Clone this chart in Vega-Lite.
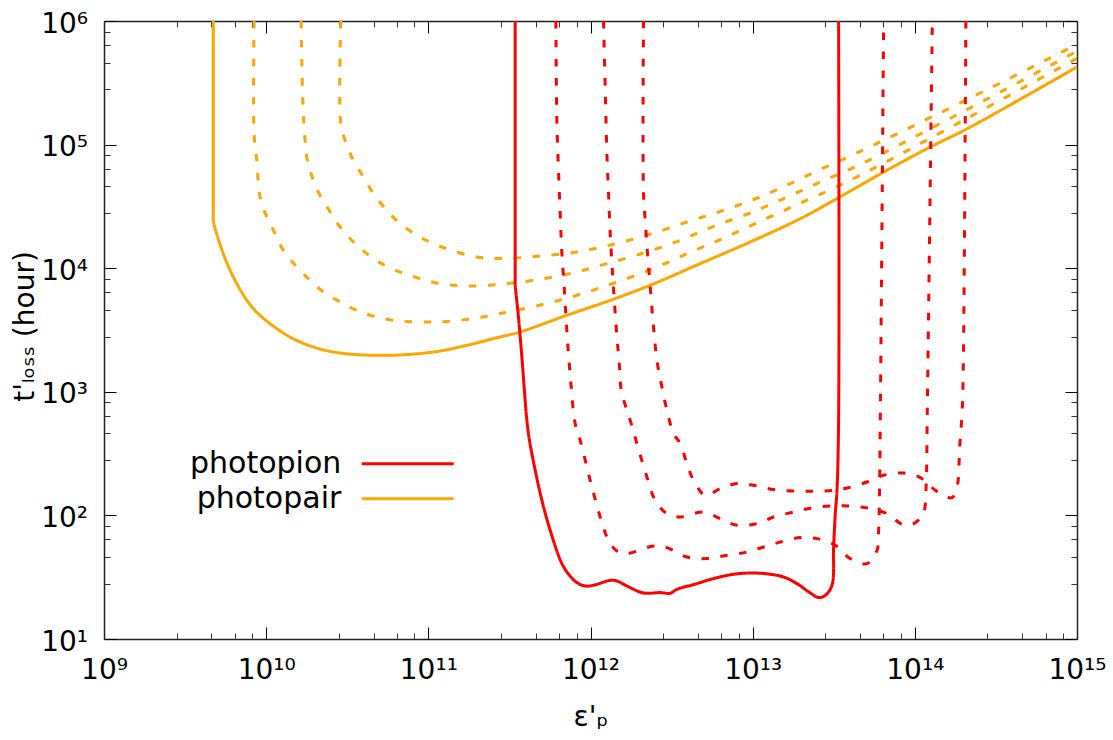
{
  "$schema": "https://vega.github.io/schema/vega-lite/v6.json",
  "width": 973,
  "height": 618,
  "autosize": {"type": "none"},
  "padding": {"left": 104, "top": 21, "right": 36, "bottom": 101},
  "background": "white",
  "config": {"view": {"stroke": null}, "font": "DejaVu Sans"},
  "datasets": {
    "lines": [
      {"c":"pair0","p":"photopair","s":"solid","o":1,"e":4.72e9,"t":1e6},
      {"c":"pair0","p":"photopair","s":"solid","o":1.5,"e":4.72e9,"t":27000},
      {"c":"pair0","p":"photopair","s":"solid","o":2,"e":4.72e9,"t":24400},
      {"c":"pair0","p":"photopair","s":"solid","o":3,"e":5.44e9,"t":13100},
      {"c":"pair0","p":"photopair","s":"solid","o":4,"e":6.59e9,"t":7510},
      {"c":"pair0","p":"photopair","s":"solid","o":5,"e":8.34e9,"t":4710},
      {"c":"pair0","p":"photopair","s":"solid","o":6,"e":1.163e10,"t":3245},
      {"c":"pair0","p":"photopair","s":"solid","o":7,"e":1.618e10,"t":2530},
      {"c":"pair0","p":"photopair","s":"solid","o":8,"e":2.598e10,"t":2099},
      {"c":"pair0","p":"photopair","s":"solid","o":9,"e":5.28e10,"t":1972},
      {"c":"pair0","p":"photopair","s":"solid","o":10,"e":1.075e11,"t":2099},
      {"c":"pair0","p":"photopair","s":"solid","o":11,"e":1.728e11,"t":2378},
      {"c":"pair0","p":"photopair","s":"solid","o":12,"e":2.773e11,"t":2776},
      {"c":"pair0","p":"photopair","s":"solid","o":13,"e":3.68e11,"t":3048},
      {"c":"pair0","p":"photopair","s":"solid","o":14,"e":7.14e11,"t":4160},
      {"c":"pair0","p":"photopair","s":"solid","o":15,"e":1.323e12,"t":5495},
      {"c":"pair0","p":"photopair","s":"solid","o":16,"e":2.334e12,"t":7280},
      {"c":"pair0","p":"photopair","s":"solid","o":17,"e":4.75e12,"t":10890},
      {"c":"pair0","p":"photopair","s":"solid","o":18,"e":9.66e12,"t":16300},
      {"c":"pair0","p":"photopair","s":"solid","o":19,"e":1.968e13,"t":25180},
      {"c":"pair0","p":"photopair","s":"solid","o":20,"e":3.311e13,"t":36560},
      {"c":"pair0","p":"photopair","s":"solid","o":21,"e":6.43e13,"t":60000},
      {"c":"pair0","p":"photopair","s":"solid","o":22,"e":1.247e14,"t":95700},
      {"c":"pair0","p":"photopair","s":"solid","o":23,"e":2.051e14,"t":132100},
      {"c":"pair0","p":"photopair","s":"solid","o":24,"e":1e15,"t":424600},

      {"c":"pair1","p":"photopair","s":"dashed","o":1,"e":8.42e9,"t":1e6},
      {"c":"pair1","p":"photopair","s":"dashed","o":2,"e":8.42e9,"t":123400},
      {"c":"pair1","p":"photopair","s":"dashed","o":3,"e":8.75e9,"t":74600},
      {"c":"pair1","p":"photopair","s":"dashed","o":4,"e":9.17e9,"t":37700},
      {"c":"pair1","p":"photopair","s":"dashed","o":5,"e":1.009e10,"t":26000},
      {"c":"pair1","p":"photopair","s":"dashed","o":6,"e":1.135e10,"t":19050},
      {"c":"pair1","p":"photopair","s":"dashed","o":7,"e":1.276e10,"t":13960},
      {"c":"pair1","p":"photopair","s":"dashed","o":8,"e":1.545e10,"t":10230},
      {"c":"pair1","p":"photopair","s":"dashed","o":9,"e":1.866e10,"t":7980},
      {"c":"pair1","p":"photopair","s":"dashed","o":10,"e":2.254e10,"t":6420},
      {"c":"pair1","p":"photopair","s":"dashed","o":11,"e":2.857e10,"t":5330},
      {"c":"pair1","p":"photopair","s":"dashed","o":12,"e":3.622e10,"t":4564},
      {"c":"pair1","p":"photopair","s":"dashed","o":13,"e":4.81e10,"t":4027},
      {"c":"pair1","p":"photopair","s":"dashed","o":14,"e":6.70e10,"t":3739},
      {"c":"pair1","p":"photopair","s":"dashed","o":15,"e":1.026e11,"t":3670},
      {"c":"pair1","p":"photopair","s":"dashed","o":16,"e":1.428e11,"t":3739},
      {"c":"pair1","p":"photopair","s":"dashed","o":17,"e":2.296e11,"t":4083},
      {"c":"pair1","p":"photopair","s":"dashed","o":18,"e":2.773e11,"t":4295},
      {"c":"pair1","p":"photopair","s":"dashed","o":19,"e":5.13e11,"t":5105},
      {"c":"pair1","p":"photopair","s":"dashed","o":20,"e":8.64e11,"t":6152},
      {"c":"pair1","p":"photopair","s":"dashed","o":21,"e":1.456e12,"t":7727},
      {"c":"pair1","p":"photopair","s":"dashed","o":22,"e":2.447e12,"t":9930},
      {"c":"pair1","p":"photopair","s":"dashed","o":23,"e":3.933e12,"t":13120},
      {"c":"pair1","p":"photopair","s":"dashed","o":24,"e":6.31e12,"t":17030},
      {"c":"pair1","p":"photopair","s":"dashed","o":25,"e":1.013e13,"t":22650},
      {"c":"pair1","p":"photopair","s":"dashed","o":26,"e":1.706e13,"t":30900},
      {"c":"pair1","p":"photopair","s":"dashed","o":27,"e":2.805e13,"t":41360},
      {"c":"pair1","p":"photopair","s":"dashed","o":28,"e":4.61e13,"t":56490},
      {"c":"pair1","p":"photopair","s":"dashed","o":29,"e":2.051e14,"t":160300},
      {"c":"pair1","p":"photopair","s":"dashed","o":30,"e":1e15,"t":498900},

      {"c":"pair2","p":"photopair","s":"dashed","o":1,"e":1.642e10,"t":1e6},
      {"c":"pair2","p":"photopair","s":"dashed","o":2,"e":1.682e10,"t":228200},
      {"c":"pair2","p":"photopair","s":"dashed","o":3,"e":1.738e10,"t":108300},
      {"c":"pair2","p":"photopair","s":"dashed","o":4,"e":1.796e10,"t":74600},
      {"c":"pair2","p":"photopair","s":"dashed","o":5,"e":1.955e10,"t":51400},
      {"c":"pair2","p":"photopair","s":"dashed","o":6,"e":2.150e10,"t":38900},
      {"c":"pair2","p":"photopair","s":"dashed","o":7,"e":2.479e10,"t":28490},
      {"c":"pair2","p":"photopair","s":"dashed","o":8,"e":2.857e10,"t":21530},
      {"c":"pair2","p":"photopair","s":"dashed","o":9,"e":3.451e10,"t":16300},
      {"c":"pair2","p":"photopair","s":"dashed","o":10,"e":4.175e10,"t":13130},
      {"c":"pair2","p":"photopair","s":"dashed","o":11,"e":5.28e10,"t":10690},
      {"c":"pair2","p":"photopair","s":"dashed","o":12,"e":6.70e10,"t":9310},
      {"c":"pair2","p":"photopair","s":"dashed","o":13,"e":8.90e10,"t":8240},
      {"c":"pair2","p":"photopair","s":"dashed","o":14,"e":1.183e11,"t":7500},
      {"c":"pair2","p":"photopair","s":"dashed","o":15,"e":1.728e11,"t":7180},
      {"c":"pair2","p":"photopair","s":"dashed","o":16,"e":2.773e11,"t":7410},
      {"c":"pair2","p":"photopair","s":"dashed","o":17,"e":4.45e11,"t":7980},
      {"c":"pair2","p":"photopair","s":"dashed","o":18,"e":7.50e11,"t":9040},
      {"c":"pair2","p":"photopair","s":"dashed","o":19,"e":1.262e12,"t":10890},
      {"c":"pair2","p":"photopair","s":"dashed","o":20,"e":2.123e12,"t":13270},
      {"c":"pair2","p":"photopair","s":"dashed","o":21,"e":3.576e12,"t":16810},
      {"c":"pair2","p":"photopair","s":"dashed","o":22,"e":5.74e12,"t":21830},
      {"c":"pair2","p":"photopair","s":"dashed","o":23,"e":9.66e12,"t":27970},
      {"c":"pair2","p":"photopair","s":"dashed","o":24,"e":1.628e13,"t":37670},
      {"c":"pair2","p":"photopair","s":"dashed","o":25,"e":2.612e13,"t":49770},
      {"c":"pair2","p":"photopair","s":"dashed","o":26,"e":4.50e13,"t":68000},
      {"c":"pair2","p":"photopair","s":"dashed","o":27,"e":2.051e14,"t":189400},
      {"c":"pair2","p":"photopair","s":"dashed","o":28,"e":1e15,"t":569000},

      {"c":"pair3","p":"photopair","s":"dashed","o":1,"e":2.885e10,"t":1e6},
      {"c":"pair3","p":"photopair","s":"dashed","o":2,"e":2.885e10,"t":147900},
      {"c":"pair3","p":"photopair","s":"dashed","o":3,"e":3.067e10,"t":108300},
      {"c":"pair3","p":"photopair","s":"dashed","o":4,"e":3.451e10,"t":74600},
      {"c":"pair3","p":"photopair","s":"dashed","o":5,"e":3.978e10,"t":54700},
      {"c":"pair3","p":"photopair","s":"dashed","o":6,"e":4.585e10,"t":40150},
      {"c":"pair3","p":"photopair","s":"dashed","o":7,"e":5.546e10,"t":29400},
      {"c":"pair3","p":"photopair","s":"dashed","o":8,"e":6.70e10,"t":22960},
      {"c":"pair3","p":"photopair","s":"dashed","o":9,"e":8.49e10,"t":18460},
      {"c":"pair3","p":"photopair","s":"dashed","o":10,"e":1.075e11,"t":15810},
      {"c":"pair3","p":"photopair","s":"dashed","o":11,"e":1.428e11,"t":13770},
      {"c":"pair3","p":"photopair","s":"dashed","o":12,"e":1.991e11,"t":12320},
      {"c":"pair3","p":"photopair","s":"dashed","o":13,"e":2.773e11,"t":11960},
      {"c":"pair3","p":"photopair","s":"dashed","o":14,"e":4.67e11,"t":12480},
      {"c":"pair3","p":"photopair","s":"dashed","o":15,"e":8.244e11,"t":13520},
      {"c":"pair3","p":"photopair","s":"dashed","o":16,"e":1.380e12,"t":15610},
      {"c":"pair3","p":"photopair","s":"dashed","o":17,"e":2.334e12,"t":18810},
      {"c":"pair3","p":"photopair","s":"dashed","o":18,"e":3.933e12,"t":23640},
      {"c":"pair3","p":"photopair","s":"dashed","o":19,"e":6.614e12,"t":29400},
      {"c":"pair3","p":"photopair","s":"dashed","o":20,"e":1.114e13,"t":37700},
      {"c":"pair3","p":"photopair","s":"dashed","o":21,"e":1.788e13,"t":49800},
      {"c":"pair3","p":"photopair","s":"dashed","o":22,"e":2.873e13,"t":66740},
      {"c":"pair3","p":"photopair","s":"dashed","o":23,"e":3.817e13,"t":78500},
      {"c":"pair3","p":"photopair","s":"dashed","o":24,"e":2.051e14,"t":228000},
      {"c":"pair3","p":"photopair","s":"dashed","o":25,"e":1e15,"t":648000},

      {"c":"pion0","p":"photopion","s":"solid","o":1,"e":3.432e11,"t":1e6},
      {"c":"pion0","p":"photopion","s":"solid","o":1.5,"e":3.432e11,"t":8300},
      {"c":"pion0","p":"photopion","s":"solid","o":2,"e":3.432e11,"t":7500},
      {"c":"pion0","p":"photopion","s":"solid","o":3,"e":3.596e11,"t":4027},
      {"c":"pion0","p":"photopion","s":"solid","o":4,"e":3.774e11,"t":1912},
      {"c":"pion0","p":"photopion","s":"solid","o":5,"e":4.052e11,"t":588},
      {"c":"pion0","p":"photopion","s":"solid","o":6,"e":4.205e11,"t":405},
      {"c":"pion0","p":"photopion","s":"solid","o":7,"e":4.56e11,"t":231.7},
      {"c":"pion0","p":"photopion","s":"solid","o":8,"e":5.015e11,"t":132.5},
      {"c":"pion0","p":"photopion","s":"solid","o":9,"e":5.642e11,"t":75.75},
      {"c":"pion0","p":"photopion","s":"solid","o":10,"e":6.663e11,"t":40.74},
      {"c":"pion0","p":"photopion","s":"solid","o":11,"e":7.42e11,"t":32.77},
      {"c":"pion0","p":"photopion","s":"solid","o":12,"e":8.24e11,"t":28.6},
      {"c":"pion0","p":"photopion","s":"solid","o":13,"e":9.275e11,"t":26.84},
      {"c":"pion0","p":"photopion","s":"solid","o":14,"e":1.044e12,"t":27.2},
      {"c":"pion0","p":"photopion","s":"solid","o":15,"e":1.323e12,"t":29.85},
      {"c":"pion0","p":"photopion","s":"solid","o":16,"e":1.456e12,"t":29.47},
      {"c":"pion0","p":"photopion","s":"solid","o":17,"e":1.677e12,"t":26.84},
      {"c":"pion0","p":"photopion","s":"solid","o":18,"e":2.123e12,"t":23.57},
      {"c":"pion0","p":"photopion","s":"solid","o":19,"e":2.692e12,"t":23.74},
      {"c":"pion0","p":"photopion","s":"solid","o":20,"e":3.10e12,"t":23.43},
      {"c":"pion0","p":"photopion","s":"solid","o":21,"e":3.412e12,"t":25.24},
      {"c":"pion0","p":"photopion","s":"solid","o":22,"e":4.319e12,"t":27.55},
      {"c":"pion0","p":"photopion","s":"solid","o":23,"e":5.74e12,"t":30.81},
      {"c":"pion0","p":"photopion","s":"solid","o":24,"e":7.624e12,"t":33.39},
      {"c":"pion0","p":"photopion","s":"solid","o":25,"e":1.013e13,"t":34.2},
      {"c":"pion0","p":"photopion","s":"solid","o":26,"e":1.284e13,"t":33.39},
      {"c":"pion0","p":"photopion","s":"solid","o":27,"e":1.551e13,"t":31.74},
      {"c":"pion0","p":"photopion","s":"solid","o":28,"e":1.876e13,"t":28.07},
      {"c":"pion0","p":"photopion","s":"solid","o":29,"e":2.266e13,"t":23.57},
      {"c":"pion0","p":"photopion","s":"solid","o":30,"e":2.55e13,"t":21.63},
      {"c":"pion0","p":"photopion","s":"solid","o":31,"e":2.805e13,"t":22.58},
      {"c":"pion0","p":"photopion","s":"solid","o":32,"e":3.084e13,"t":27.2},
      {"c":"pion0","p":"photopion","s":"solid","o":33,"e":3.156e13,"t":55.5},
      {"c":"pion0","p":"photopion","s":"solid","o":34,"e":3.233e13,"t":103.4},
      {"c":"pion0","p":"photopion","s":"solid","o":35,"e":3.311e13,"t":159.6},
      {"c":"pion0","p":"photopion","s":"solid","o":36,"e":3.388e13,"t":588},
      {"c":"pion0","p":"photopion","s":"solid","o":37,"e":3.388e13,"t":1e6},

      {"c":"pion1","p":"photopion","s":"dashed","o":1,"e":6.116e11,"t":1e6},
      {"c":"pion1","p":"photopion","s":"dashed","o":2,"e":6.203e11,"t":157300},
      {"c":"pion1","p":"photopion","s":"dashed","o":3,"e":6.348e11,"t":61960},
      {"c":"pion1","p":"photopion","s":"dashed","o":4,"e":6.502e11,"t":27650},
      {"c":"pion1","p":"photopion","s":"dashed","o":5,"e":6.663e11,"t":13130},
      {"c":"pion1","p":"photopion","s":"dashed","o":6,"e":6.882e11,"t":7046},
      {"c":"pion1","p":"photopion","s":"dashed","o":7,"e":7.08e11,"t":3789},
      {"c":"pion1","p":"photopion","s":"dashed","o":8,"e":7.315e11,"t":2037},
      {"c":"pion1","p":"photopion","s":"dashed","o":9,"e":7.603e11,"t":1094},
      {"c":"pion1","p":"photopion","s":"dashed","o":10,"e":8.045e11,"t":553},
      {"c":"pion1","p":"photopion","s":"dashed","o":11,"e":8.64e11,"t":405},
      {"c":"pion1","p":"photopion","s":"dashed","o":12,"e":9.96e11,"t":192.3},
      {"c":"pion1","p":"photopion","s":"dashed","o":13,"e":1.148e12,"t":97.1},
      {"c":"pion1","p":"photopion","s":"dashed","o":14,"e":1.291e12,"t":62.9},
      {"c":"pion1","p":"photopion","s":"dashed","o":15,"e":1.456e12,"t":51.5},
      {"c":"pion1","p":"photopion","s":"dashed","o":16,"e":1.677e12,"t":49.1},
      {"c":"pion1","p":"photopion","s":"dashed","o":17,"e":2.447e12,"t":56.55},
      {"c":"pion1","p":"photopion","s":"dashed","o":18,"e":2.96e12,"t":54.9},
      {"c":"pion1","p":"photopion","s":"dashed","o":19,"e":3.933e12,"t":46.07},
      {"c":"pion1","p":"photopion","s":"dashed","o":20,"e":5.225e12,"t":44.73},
      {"c":"pion1","p":"photopion","s":"dashed","o":21,"e":6.94e12,"t":47.55},
      {"c":"pion1","p":"photopion","s":"dashed","o":22,"e":9.224e12,"t":50.56},
      {"c":"pion1","p":"photopion","s":"dashed","o":23,"e":1.168e13,"t":55.5},
      {"c":"pion1","p":"photopion","s":"dashed","o":24,"e":1.48e13,"t":60.93},
      {"c":"pion1","p":"photopion","s":"dashed","o":25,"e":1.968e13,"t":66.13},
      {"c":"pion1","p":"photopion","s":"dashed","o":26,"e":2.493e13,"t":64.91},
      {"c":"pion1","p":"photopion","s":"dashed","o":27,"e":3.233e13,"t":57.3},
      {"c":"pion1","p":"photopion","s":"dashed","o":28,"e":4.0e13,"t":44.73},
      {"c":"pion1","p":"photopion","s":"dashed","o":29,"e":5.07e13,"t":40.74},
      {"c":"pion1","p":"photopion","s":"dashed","o":30,"e":5.847e13,"t":52.2},
      {"c":"pion1","p":"photopion","s":"dashed","o":31,"e":5.98e13,"t":75.75},
      {"c":"pion1","p":"photopion","s":"dashed","o":32,"e":6.067e13,"t":192.3},
      {"c":"pion1","p":"photopion","s":"dashed","o":33,"e":6.128e13,"t":666},
      {"c":"pion1","p":"photopion","s":"dashed","o":34,"e":6.42e13,"t":1e6},

      {"c":"pion2","p":"photopion","s":"dashed","o":1,"e":1.203e12,"t":1e6},
      {"c":"pion2","p":"photopion","s":"dashed","o":2,"e":1.232e12,"t":292400},
      {"c":"pion2","p":"photopion","s":"dashed","o":3,"e":1.262e12,"t":84580},
      {"c":"pion2","p":"photopion","s":"dashed","o":4,"e":1.292e12,"t":40150},
      {"c":"pion2","p":"photopion","s":"dashed","o":5,"e":1.323e12,"t":19050},
      {"c":"pion2","p":"photopion","s":"dashed","o":6,"e":1.380e12,"t":7500},
      {"c":"pion2","p":"photopion","s":"dashed","o":7,"e":1.456e12,"t":2776},
      {"c":"pion2","p":"photopion","s":"dashed","o":8,"e":1.51e12,"t":1587},
      {"c":"pion2","p":"photopion","s":"dashed","o":9,"e":1.547e12,"t":1028},
      {"c":"pion2","p":"photopion","s":"dashed","o":10,"e":1.677e12,"t":708.7},
      {"c":"pion2","p":"photopion","s":"dashed","o":11,"e":1.757e12,"t":588},
      {"c":"pion2","p":"photopion","s":"dashed","o":12,"e":1.933e12,"t":381},
      {"c":"pion2","p":"photopion","s":"dashed","o":13,"e":2.228e12,"t":204.5},
      {"c":"pion2","p":"photopion","s":"dashed","o":14,"e":2.506e12,"t":132.5},
      {"c":"pion2","p":"photopion","s":"dashed","o":15,"e":2.96e12,"t":103.4},
      {"c":"pion2","p":"photopion","s":"dashed","o":16,"e":3.576e12,"t":97.1},
      {"c":"pion2","p":"photopion","s":"dashed","o":17,"e":4.978e12,"t":106.5},
      {"c":"pion2","p":"photopion","s":"dashed","o":18,"e":6.31e12,"t":94.2},
      {"c":"pion2","p":"photopion","s":"dashed","o":19,"e":8.003e12,"t":83.18},
      {"c":"pion2","p":"photopion","s":"dashed","o":20,"e":1.063e13,"t":85.85},
      {"c":"pion2","p":"photopion","s":"dashed","o":21,"e":1.346e13,"t":97.1},
      {"c":"pion2","p":"photopion","s":"dashed","o":22,"e":1.788e13,"t":106.5},
      {"c":"pion2","p":"photopion","s":"dashed","o":23,"e":2.375e13,"t":115.7},
      {"c":"pion2","p":"photopion","s":"dashed","o":24,"e":3.156e13,"t":119.2},
      {"c":"pion2","p":"photopion","s":"dashed","o":25,"e":4.0e13,"t":119.2},
      {"c":"pion2","p":"photopion","s":"dashed","o":26,"e":5.314e13,"t":113.5},
      {"c":"pion2","p":"photopion","s":"dashed","o":27,"e":6.737e13,"t":103.4},
      {"c":"pion2","p":"photopion","s":"dashed","o":28,"e":8.34e13,"t":84.7},
      {"c":"pion2","p":"photopion","s":"dashed","o":29,"e":9.515e13,"t":83.95},
      {"c":"pion2","p":"photopion","s":"dashed","o":30,"e":1.066e14,"t":92.98},
      {"c":"pion2","p":"photopion","s":"dashed","o":31,"e":1.133e14,"t":103.4},
      {"c":"pion2","p":"photopion","s":"dashed","o":32,"e":1.177e14,"t":192.3},
      {"c":"pion2","p":"photopion","s":"dashed","o":33,"e":1.189e14,"t":488},
      {"c":"pion2","p":"photopion","s":"dashed","o":34,"e":1.199e14,"t":1094},
      {"c":"pion2","p":"photopion","s":"dashed","o":35,"e":1.282e14,"t":1e6},

      {"c":"pion3","p":"photopion","s":"dashed","o":1,"e":2.123e12,"t":1e6},
      {"c":"pion3","p":"photopion","s":"dashed","o":2,"e":2.123e12,"t":40150},
      {"c":"pion3","p":"photopion","s":"dashed","o":3,"e":2.175e12,"t":24400},
      {"c":"pion3","p":"photopion","s":"dashed","o":4,"e":2.247e12,"t":13130},
      {"c":"pion3","p":"photopion","s":"dashed","o":5,"e":2.335e12,"t":7046},
      {"c":"pion3","p":"photopion","s":"dashed","o":6,"e":2.447e12,"t":3344},
      {"c":"pion3","p":"photopion","s":"dashed","o":7,"e":2.568e12,"t":1798},
      {"c":"pion3","p":"photopion","s":"dashed","o":8,"e":2.757e12,"t":1094},
      {"c":"pion3","p":"photopion","s":"dashed","o":9,"e":2.96e12,"t":708.7},
      {"c":"pion3","p":"photopion","s":"dashed","o":10,"e":3.252e12,"t":459},
      {"c":"pion3","p":"photopion","s":"dashed","o":11,"e":3.576e12,"t":381},
      {"c":"pion3","p":"photopion","s":"dashed","o":12,"e":3.933e12,"t":262.5},
      {"c":"pion3","p":"photopion","s":"dashed","o":13,"e":4.319e12,"t":192.3},
      {"c":"pion3","p":"photopion","s":"dashed","o":14,"e":5.101e12,"t":145.4},
      {"c":"pion3","p":"photopion","s":"dashed","o":15,"e":6.31e12,"t":164.7},
      {"c":"pion3","p":"photopion","s":"dashed","o":16,"e":8.003e12,"t":180.8},
      {"c":"pion3","p":"photopion","s":"dashed","o":17,"e":1.013e13,"t":175.2},
      {"c":"pion3","p":"photopion","s":"dashed","o":18,"e":1.346e13,"t":161.7},
      {"c":"pion3","p":"photopion","s":"dashed","o":19,"e":1.788e13,"t":157.5},
      {"c":"pion3","p":"photopion","s":"dashed","o":20,"e":2.375e13,"t":156.7},
      {"c":"pion3","p":"photopion","s":"dashed","o":21,"e":3.156e13,"t":159.6},
      {"c":"pion3","p":"photopion","s":"dashed","o":22,"e":3.817e13,"t":166.6},
      {"c":"pion3","p":"photopion","s":"dashed","o":23,"e":5.07e13,"t":186.3},
      {"c":"pion3","p":"photopion","s":"dashed","o":24,"e":6.42e13,"t":211.1},
      {"c":"pion3","p":"photopion","s":"dashed","o":25,"e":8.53e13,"t":220.3},
      {"c":"pion3","p":"photopion","s":"dashed","o":26,"e":1.081e14,"t":202.2},
      {"c":"pion3","p":"photopion","s":"dashed","o":27,"e":1.338e14,"t":159.6},
      {"c":"pion3","p":"photopion","s":"dashed","o":28,"e":1.542e14,"t":142.7},
      {"c":"pion3","p":"photopion","s":"dashed","o":29,"e":1.696e14,"t":139.3},
      {"c":"pion3","p":"photopion","s":"dashed","o":30,"e":1.822e14,"t":169.7},
      {"c":"pion3","p":"photopion","s":"dashed","o":31,"e":1.89e14,"t":357.6},
      {"c":"pion3","p":"photopion","s":"dashed","o":32,"e":1.955e14,"t":666},
      {"c":"pion3","p":"photopion","s":"dashed","o":33,"e":1.983e14,"t":1165},
      {"c":"pion3","p":"photopion","s":"dashed","o":34,"e":2.064e14,"t":1e6}
    ]
  },
  "data": {"name": "lines"},
  "resolve": {"axis": {"x": "independent", "y": "independent"}},
  "layer": [
    {
      "mark": {"type": "line", "strokeWidth": 3, "clip": true, "interpolate": "catmull-rom"},
      "encoding": {
        "x": {"field": "e", "type": "quantitative",
          "scale": {"type": "log", "domain": [1e9, 1e15], "nice": false},
          "axis": {"orient": "bottom", "values": [1e9, 1e10, 1e11, 1e12, 1e13, 1e14, 1e15],
            "labelExpr": "'10' + ['⁰','¹','²','³','⁴','⁵','⁶','⁷','⁸','⁹','¹⁰','¹¹','¹²','¹³','¹⁴','¹⁵'][round(log(datum.value)/LN10)]",
            "tickSize": -12, "tickColor": "#000", "tickWidth": 1,
            "labelPadding": 29, "labelFont": "DejaVu Sans", "labelFontSize": 28, "labelColor": "#000",
            "labelFlush": false, "labelOverlap": false, "labelBound": false, "labelAngle": 0,
            "domain": true, "domainColor": "#222", "domainWidth": 1.5, "grid": false,
            "title": "ε'ₚ", "titleFont": "DejaVu Sans", "titleFontSize": 28, "titleFontWeight": "normal", "titleColor": "#000",
            "titleX": 486.5, "titleY": 86, "titleAlign": "center", "titleBaseline": "alphabetic", "titleAngle": 0}},
        "y": {"field": "t", "type": "quantitative",
          "scale": {"type": "log", "domain": [10, 1e6], "nice": false},
          "axis": {"orient": "left", "values": [10, 100, 1000, 10000, 100000, 1000000],
            "labelExpr": "'10' + ['⁰','¹','²','³','⁴','⁵','⁶','⁷','⁸','⁹','¹⁰','¹¹','¹²','¹³','¹⁴','¹⁵'][round(log(datum.value)/LN10)]",
            "tickSize": -12, "tickColor": "#000", "tickWidth": 1,
            "labelPadding": 28.5, "labelFont": "DejaVu Sans", "labelFontSize": 28, "labelColor": "#000",
            "labelAlign": "right", "labelBaseline": "alphabetic", "labelOffset": 11,
            "labelFlush": false, "labelOverlap": false, "labelBound": false,
            "domain": true, "domainColor": "#222", "domainWidth": 1.5, "grid": false,
            "title": "t'ₗₒₛₛ (hour)", "titleFont": "DejaVu Sans", "titleFontSize": 28, "titleFontWeight": "normal", "titleColor": "#000",
            "titleX": -70.7, "titleY": 305, "titleAlign": "center", "titleBaseline": "alphabetic", "titleAngle": 270}},
        "color": {"field": "p", "type": "nominal",
          "scale": {"domain": ["photopion", "photopair"], "range": ["#ff0000", "#ffa500"]},
          "legend": {"orient": "none", "legendX": 286.7, "legendY": 425.7, "title": null, "padding": 0,
            "symbolType": "M-3,0L3,0", "symbolSize": 940, "symbolStrokeWidth": 3,
            "labelFont": "DejaVu Sans", "labelFontSize": 30, "labelColor": "#000", "labelLimit": 400,
            "labelAlign": "right", "labelOffset": -83.4, "rowPadding": 3, "direction": "vertical"}},
        "strokeDash": {"field": "s", "type": "nominal",
          "scale": {"domain": ["solid", "dashed"], "range": [[1, 0], [7.5, 11.5]]}, "legend": null},
        "detail": {"field": "c"},
        "order": {"field": "o", "type": "quantitative"}
      }
    },
    {
      "mark": {"type": "point", "opacity": 0, "size": 1},
      "encoding": {
        "x": {"field": "e", "type": "quantitative",
          "scale": {"type": "log", "domain": [1e9, 1e15], "nice": false},
          "axis": {"orient": "bottom", "values": [2.8e9,4.6e9,6.4e9,8.2e9,2.8e10,4.6e10,6.4e10,8.2e10,2.8e11,4.6e11,6.4e11,8.2e11,2.8e12,4.6e12,6.4e12,8.2e12,2.8e13,4.6e13,6.4e13,8.2e13,2.8e14,4.6e14,6.4e14,8.2e14],
            "labels": false, "tickSize": -6, "tickColor": "#333", "tickWidth": 1, "domain": false, "grid": false, "title": null}},
        "y": {"field": "t", "type": "quantitative",
          "scale": {"type": "log", "domain": [10, 1e6], "nice": false},
          "axis": {"orient": "left", "values": [28,46,64,82,280,460,640,820,2800,4600,6400,8200,28000,46000,64000,82000,280000,460000,640000,820000],
            "labels": false, "tickSize": -6, "tickColor": "#333", "tickWidth": 1, "domain": false, "grid": false, "title": null}}
      }
    },
    {
      "mark": {"type": "point", "opacity": 0, "size": 1},
      "encoding": {
        "x": {"field": "e", "type": "quantitative",
          "scale": {"type": "log", "domain": [1e9, 1e15], "nice": false},
          "axis": {"orient": "top", "values": [1e9, 1e10, 1e11, 1e12, 1e13, 1e14, 1e15],
            "labels": false, "tickSize": -12, "tickColor": "#000", "tickWidth": 1, "domain": true, "domainColor": "#222", "domainWidth": 1.5, "grid": false, "title": null}},
        "y": {"field": "t", "type": "quantitative",
          "scale": {"type": "log", "domain": [10, 1e6], "nice": false},
          "axis": {"orient": "right", "values": [10, 100, 1000, 10000, 100000, 1000000],
            "labels": false, "tickSize": -12, "tickColor": "#000", "tickWidth": 1, "domain": true, "domainColor": "#222", "domainWidth": 1.5, "grid": false, "title": null}}
      }
    },
    {
      "mark": {"type": "point", "opacity": 0, "size": 1},
      "encoding": {
        "x": {"field": "e", "type": "quantitative",
          "scale": {"type": "log", "domain": [1e9, 1e15], "nice": false},
          "axis": {"orient": "top", "values": [2.8e9,4.6e9,6.4e9,8.2e9,2.8e10,4.6e10,6.4e10,8.2e10,2.8e11,4.6e11,6.4e11,8.2e11,2.8e12,4.6e12,6.4e12,8.2e12,2.8e13,4.6e13,6.4e13,8.2e13,2.8e14,4.6e14,6.4e14,8.2e14],
            "labels": false, "tickSize": -6, "tickColor": "#333", "tickWidth": 1, "domain": false, "grid": false, "title": null}},
        "y": {"field": "t", "type": "quantitative",
          "scale": {"type": "log", "domain": [10, 1e6], "nice": false},
          "axis": {"orient": "right", "values": [28,46,64,82,280,460,640,820,2800,4600,6400,8200,28000,46000,64000,82000,280000,460000,640000,820000],
            "labels": false, "tickSize": -6, "tickColor": "#333", "tickWidth": 1, "domain": false, "grid": false, "title": null}}
      }
    }
  ]
}
